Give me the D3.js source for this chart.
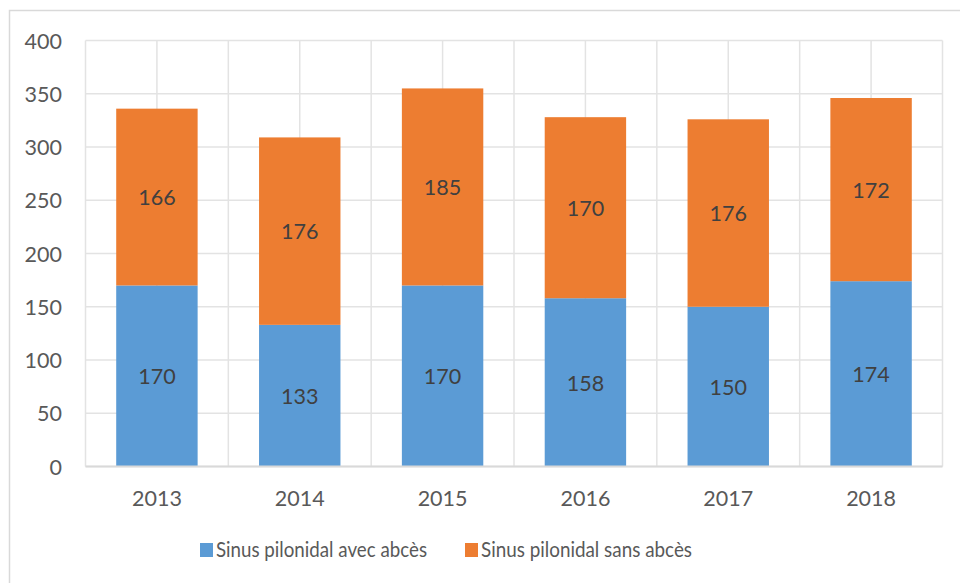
<!DOCTYPE html>
<html>
<head>
<meta charset="utf-8">
<script src="https://cdn.jsdelivr.net/npm/d3@7"></script>
<style>
  body { margin: 0; background: #fff; }
  svg text { font-family: Lato, "Open Sans", sans-serif; }
</style>
</head>
<body>
<div id="chart"></div>
<script>
// values
const years = ['2013', '2014', '2015', '2016', '2017', '2018'];
const avecAbces = [170, 133, 170, 158, 150, 174];
const sansAbces = [166, 176, 185, 170, 176, 172];
const seriesNames = ['Sinus pilonidal avec abcès', 'Sinus pilonidal sans abcès'];
const yTicks = [0, 50, 100, 150, 200, 250, 300, 350, 400];

const W = 960, H = 583;
const colors = ['#5B9BD5', '#ED7D31'];
const plot = {left: 85.5, right: 942.5, top: 40.5, bottom: 466.5};

const svg = d3.select('#chart').append('svg')
  .attr('width', W)
  .attr('height', H);

// outer frame, runs off the right and bottom edges
svg.append('rect')
  .attr('x', 9.5).attr('y', 10.5)
  .attr('width', W + 20).attr('height', H + 20)
  .attr('fill', 'none')
  .attr('stroke', '#D9D9D9')
  .attr('stroke-width', 1.5);

const x = d3.scaleBand()
  .domain(years)
  .range([plot.left, plot.right]);

const y = d3.scaleLinear()
  .domain([0, 400])
  .range([plot.bottom, plot.top]);

const grid = svg.append('g').attr('class', 'grid');

// horizontal grid
grid.selectAll('.hline')
  .data(yTicks)
  .enter()
  .append('line')
    .attr('class', 'hline')
    .attr('x1', plot.left).attr('x2', plot.right)
    .attr('y1', d => y(d)).attr('y2', d => y(d))
    .attr('stroke', '#E3E3E3')
    .attr('stroke-width', 1.5);

// vertical grid at category edges and centres
const vx = [];
years.forEach(yr => {
  vx.push(x(yr));
  vx.push(x(yr) + x.bandwidth() / 2);
});
vx.push(plot.right);

grid.selectAll('.vline')
  .data(vx)
  .enter()
  .append('line')
    .attr('class', 'vline')
    .attr('x1', d => d).attr('x2', d => d)
    .attr('y1', plot.top).attr('y2', plot.bottom)
    .attr('stroke', '#E3E3E3')
    .attr('stroke-width', 1.5);

// stacked bars
const rows = years.map((yr, i) => ({year: yr, a: avecAbces[i], s: sansAbces[i]}));
const stacked = d3.stack().keys(['a', 's'])(rows);
const barW = x.bandwidth() * 0.57;

const layers = svg.selectAll('.layer')
  .data(stacked)
  .enter()
  .append('g')
    .attr('class', 'layer')
    .attr('fill', (d, i) => colors[i]);

layers.selectAll('rect')
  .data(d => d)
  .enter()
  .append('rect')
    .attr('x', d => x(d.data.year) + (x.bandwidth() - barW) / 2)
    .attr('y', d => y(d[1]))
    .attr('width', barW)
    .attr('height', d => y(d[0]) - y(d[1]));

// bottom axis line
svg.append('line')
  .attr('x1', plot.left).attr('x2', plot.right)
  .attr('y1', plot.bottom).attr('y2', plot.bottom)
  .attr('stroke', '#D9D9D9')
  .attr('stroke-width', 2);

// data labels
layers.selectAll('text')
  .data(d => d)
  .enter()
  .append('text')
    .attr('x', d => x(d.data.year) + x.bandwidth() / 2)
    .attr('y', d => (y(d[0]) + y(d[1])) / 2)
    .attr('dy', '0.38em')
    .attr('text-anchor', 'middle')
    .attr('fill', '#404040')
    .attr('font-size', 21.5)
    .text(d => d[1] - d[0]);

// y labels
svg.selectAll('.ylab')
  .data(yTicks)
  .enter()
  .append('text')
    .attr('class', 'ylab')
    .attr('x', 62)
    .attr('y', d => y(d))
    .attr('dy', '0.38em')
    .attr('text-anchor', 'end')
    .attr('fill', '#595959')
    .attr('font-size', 21.5)
    .text(d => d);

// x labels
svg.selectAll('.xlab')
  .data(years)
  .enter()
  .append('text')
    .attr('class', 'xlab')
    .attr('x', d => x(d) + x.bandwidth() / 2)
    .attr('y', 506)
    .attr('text-anchor', 'middle')
    .attr('fill', '#595959')
    .attr('font-size', 21.5)
    .text(d => d);

// legend
const legendX = [200, 465];
const legend = svg.selectAll('.legend')
  .data(seriesNames)
  .enter()
  .append('g')
    .attr('class', 'legend')
    .attr('transform', (d, i) => `translate(${legendX[i]},543)`);

legend.append('rect')
  .attr('width', 13).attr('height', 14)
  .attr('fill', (d, i) => colors[i]);

legend.append('text')
  .attr('x', 16)
  .attr('y', 14)
  .attr('fill', '#595959')
  .attr('font-size', 21)
  .attr('textLength', 211)
  .attr('lengthAdjust', 'spacingAndGlyphs')
  .text(d => d);
</script>
</body>
</html>
